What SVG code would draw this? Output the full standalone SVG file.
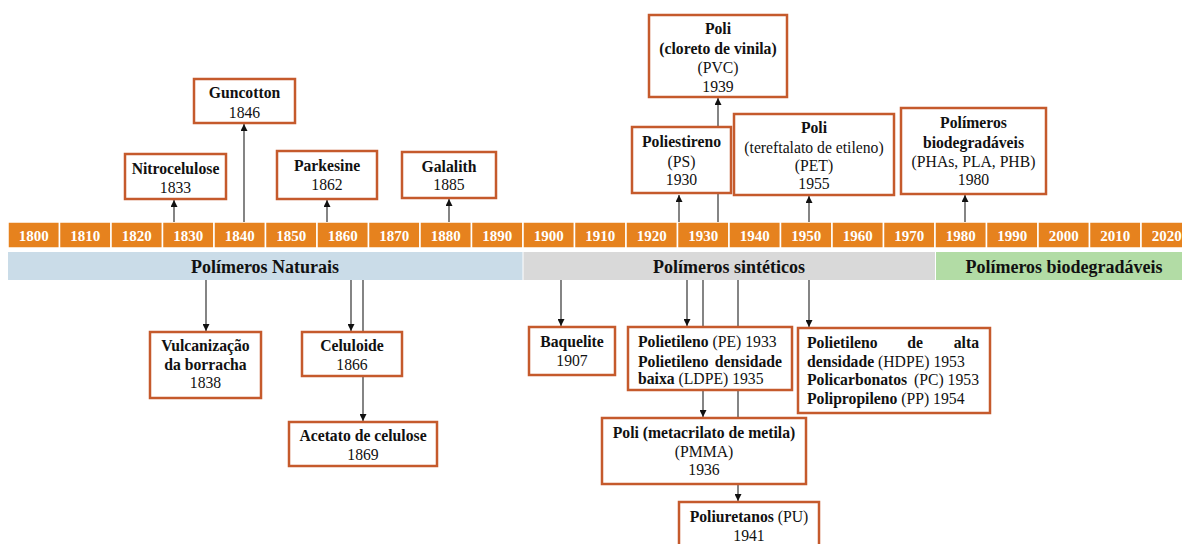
<svg xmlns="http://www.w3.org/2000/svg" width="1182" height="544" viewBox="0 0 1182 544">
<defs>
<style>
.box{fill:#fff;stroke:#C55A2C;stroke-width:2.5}
.t{font-family:"Liberation Serif","Times New Roman",serif;font-size:15.7px;fill:#111;text-anchor:middle}
.l{text-anchor:start}
.e{text-anchor:end}
.b{font-weight:bold}
.yr{font-family:"Liberation Serif","Times New Roman",serif;font-size:15px;font-weight:bold;fill:#fff;text-anchor:middle}
.cell{fill:#E6821E;stroke:#fff;stroke-width:1.5}
.band{font-family:"Liberation Serif","Times New Roman",serif;font-size:18px;font-weight:bold;fill:#111;text-anchor:middle}
.ln{stroke:#333;stroke-width:1.2;fill:none}
</style>
<marker id="ar" viewBox="0 0 10 10" refX="10" refY="5" markerWidth="7" markerHeight="7" markerUnits="userSpaceOnUse" orient="auto">
<path d="M0,0 L10,5 L0,10 z" fill="#111"/>
</marker>
</defs>
<rect width="1182" height="544" fill="#fff"/>

<g id="timeline">
<rect class="cell" x="8" y="222" width="51.5" height="26"/>
<rect class="cell" x="59.5" y="222" width="51.5" height="26"/>
<rect class="cell" x="111" y="222" width="51.5" height="26"/>
<rect class="cell" x="162.5" y="222" width="51.5" height="26"/>
<rect class="cell" x="214" y="222" width="51.5" height="26"/>
<rect class="cell" x="265.5" y="222" width="51.5" height="26"/>
<rect class="cell" x="317" y="222" width="51.5" height="26"/>
<rect class="cell" x="368.5" y="222" width="51.5" height="26"/>
<rect class="cell" x="420" y="222" width="51.5" height="26"/>
<rect class="cell" x="471.5" y="222" width="51.5" height="26"/>
<rect class="cell" x="523" y="222" width="51.5" height="26"/>
<rect class="cell" x="574.5" y="222" width="51.5" height="26"/>
<rect class="cell" x="626" y="222" width="51.5" height="26"/>
<rect class="cell" x="677.5" y="222" width="51.5" height="26"/>
<rect class="cell" x="729" y="222" width="51.5" height="26"/>
<rect class="cell" x="780.5" y="222" width="51.5" height="26"/>
<rect class="cell" x="832" y="222" width="51.5" height="26"/>
<rect class="cell" x="883.5" y="222" width="51.5" height="26"/>
<rect class="cell" x="935" y="222" width="51.5" height="26"/>
<rect class="cell" x="986.5" y="222" width="51.5" height="26"/>
<rect class="cell" x="1038" y="222" width="51.5" height="26"/>
<rect class="cell" x="1089.5" y="222" width="51.5" height="26"/>
<rect class="cell" x="1141" y="222" width="51.5" height="26"/>
<text class="yr" x="33.75" y="241">1800</text>
<text class="yr" x="85.25" y="241">1810</text>
<text class="yr" x="136.75" y="241">1820</text>
<text class="yr" x="188.25" y="241">1830</text>
<text class="yr" x="239.75" y="241">1840</text>
<text class="yr" x="291.25" y="241">1850</text>
<text class="yr" x="342.75" y="241">1860</text>
<text class="yr" x="394.25" y="241">1870</text>
<text class="yr" x="445.75" y="241">1880</text>
<text class="yr" x="497.25" y="241">1890</text>
<text class="yr" x="548.75" y="241">1900</text>
<text class="yr" x="600.25" y="241">1910</text>
<text class="yr" x="651.75" y="241">1920</text>
<text class="yr" x="703.25" y="241">1930</text>
<text class="yr" x="754.75" y="241">1940</text>
<text class="yr" x="806.25" y="241">1950</text>
<text class="yr" x="857.75" y="241">1960</text>
<text class="yr" x="909.25" y="241">1970</text>
<text class="yr" x="960.75" y="241">1980</text>
<text class="yr" x="1012.25" y="241">1990</text>
<text class="yr" x="1063.75" y="241">2000</text>
<text class="yr" x="1115.25" y="241">2010</text>
<text class="yr" x="1166.75" y="241">2020</text>
</g>

<g id="bands">
<rect x="8" y="252" width="514.5" height="28" fill="#CADCE8"/>
<rect x="523.5" y="252" width="411.5" height="28" fill="#D9D9D9"/>
<rect x="936" y="252" width="256" height="28" fill="#B2DCA5"/>
<text class="band" x="265" y="273">Polímeros Naturais</text>
<text class="band" x="729" y="273">Polímeros sintéticos</text>
<text class="band" x="1064" y="273">Polímeros biodegradáveis</text>
</g>

<g id="connectors">
<line class="ln" x1="174" y1="222" x2="174" y2="200" marker-end="url(#ar)"/>
<line class="ln" x1="244" y1="222" x2="244" y2="124" marker-end="url(#ar)"/>
<line class="ln" x1="327" y1="222" x2="327" y2="200" marker-end="url(#ar)"/>
<line class="ln" x1="449" y1="222" x2="449" y2="199" marker-end="url(#ar)"/>
<line class="ln" x1="679" y1="222" x2="679" y2="195" marker-end="url(#ar)"/>
<line class="ln" x1="718" y1="222" x2="718" y2="98" marker-end="url(#ar)"/>
<line class="ln" x1="809" y1="222" x2="809" y2="196" marker-end="url(#ar)"/>
<line class="ln" x1="965" y1="222" x2="965" y2="195" marker-end="url(#ar)"/>
<line class="ln" x1="206" y1="280" x2="206" y2="331" marker-end="url(#ar)"/>
<line class="ln" x1="351" y1="280" x2="351" y2="331" marker-end="url(#ar)"/>
<line class="ln" x1="363" y1="280" x2="363" y2="421" marker-end="url(#ar)"/>
<line class="ln" x1="561" y1="280" x2="561" y2="326" marker-end="url(#ar)"/>
<line class="ln" x1="687" y1="280" x2="687" y2="326" marker-end="url(#ar)"/>
<line class="ln" x1="703" y1="280" x2="703" y2="417" marker-end="url(#ar)"/>
<line class="ln" x1="738" y1="280" x2="738" y2="501" marker-end="url(#ar)"/>
<line class="ln" x1="809" y1="280" x2="809" y2="327" marker-end="url(#ar)"/>
</g>

<g id="nitrocelulose">
<rect class="box" x="125" y="154" width="101" height="45"/>
<text class="t b" x="175.5" y="174">Nitrocelulose</text>
<text class="t" x="175.5" y="193">1833</text>
</g>
<g id="guncotton">
<rect class="box" x="194" y="79" width="101" height="44"/>
<text class="t b" x="244.5" y="98">Guncotton</text>
<text class="t" x="244.5" y="118">1846</text>
</g>
<g id="parkesine">
<rect class="box" x="277" y="151" width="100" height="48"/>
<text class="t b" x="327" y="171">Parkesine</text>
<text class="t" x="327" y="190">1862</text>
</g>
<g id="galalith">
<rect class="box" x="402" y="152" width="94" height="46"/>
<text class="t b" x="449" y="172">Galalith</text>
<text class="t" x="449" y="190">1885</text>
</g>
<g id="pvc">
<rect class="box" x="649" y="15" width="138" height="82"/>
<text class="t b" x="718" y="34">Poli</text>
<text class="t b" x="718" y="54">(cloreto de vinila)</text>
<text class="t" x="718" y="73">(PVC)</text>
<text class="t" x="718" y="92">1939</text>
</g>
<g id="poliestireno">
<rect class="box" x="632" y="127" width="99" height="66"/>
<text class="t b" x="681.5" y="147">Poliestireno</text>
<text class="t" x="681.5" y="167">(PS)</text>
<text class="t" x="681.5" y="185">1930</text>
</g>
<g id="pet">
<rect class="box" x="734" y="114" width="160" height="81"/>
<text class="t b" x="814" y="133">Poli</text>
<text class="t" x="814" y="153">(tereftalato de etileno)</text>
<text class="t" x="814" y="171">(PET)</text>
<text class="t" x="814" y="189">1955</text>
</g>
<g id="biodegradaveis">
<rect class="box" x="901" y="108" width="145" height="86"/>
<text class="t b" x="973.5" y="128">Polímeros</text>
<text class="t b" x="973.5" y="148">biodegradáveis</text>
<text class="t" x="973.5" y="167">(PHAs, PLA, PHB)</text>
<text class="t" x="973.5" y="185">1980</text>
</g>

<g id="vulcanizacao">
<rect class="box" x="150" y="332" width="111" height="66"/>
<text class="t b" x="205.5" y="351">Vulcanização</text>
<text class="t b" x="205.5" y="370">da borracha</text>
<text class="t" x="205.5" y="388">1838</text>
</g>
<g id="celuloide">
<rect class="box" x="302" y="332" width="100" height="44"/>
<text class="t b" x="352" y="351">Celuloide</text>
<text class="t" x="352" y="370">1866</text>
</g>
<g id="acetato">
<rect class="box" x="289" y="422" width="148" height="44"/>
<text class="t b" x="363" y="441">Acetato de celulose</text>
<text class="t" x="363" y="460">1869</text>
</g>
<g id="baquelite">
<rect class="box" x="529" y="327" width="86" height="48"/>
<text class="t b" x="572" y="347">Baquelite</text>
<text class="t" x="572" y="366">1907</text>
</g>
<g id="polietileno">
<rect class="box" x="628" y="327" width="164" height="63"/>
<text class="t l" x="638" y="347"><tspan class="b">Polietileno</tspan> (PE) 1933</text>
<text class="t l b" x="638" y="367">Polietileno</text>
<text class="t e b" x="782" y="367">densidade</text>
<text class="t l" x="638" y="384"><tspan class="b">baixa</tspan> (LDPE) 1935</text>
</g>
<g id="pmma">
<rect class="box" x="602" y="418" width="204" height="66"/>
<text class="t b" x="704" y="438">Poli (metacrilato de metila)</text>
<text class="t" x="704" y="457">(PMMA)</text>
<text class="t" x="704" y="475">1936</text>
</g>
<g id="pu">
<rect class="box" x="679" y="502" width="140" height="50"/>
<text class="t" x="749" y="522"><tspan class="b">Poliuretanos</tspan> (PU)</text>
<text class="t" x="749" y="541">1941</text>
</g>
<g id="hdpe">
<rect class="box" x="798" y="328" width="192" height="85"/>
<text class="t l b" x="807" y="348">Polietileno</text>
<text class="t b" x="915" y="348">de</text>
<text class="t e b" x="979" y="348">alta</text>
<text class="t l" x="807" y="367"><tspan class="b">densidade</tspan> (HDPE) 1953</text>
<text class="t l b" x="807" y="385">Policarbonatos</text>
<text class="t e" x="979" y="385">(PC) 1953</text>
<text class="t l" x="807" y="404"><tspan class="b">Polipropileno</tspan> (PP) 1954</text>
</g>
</svg>
